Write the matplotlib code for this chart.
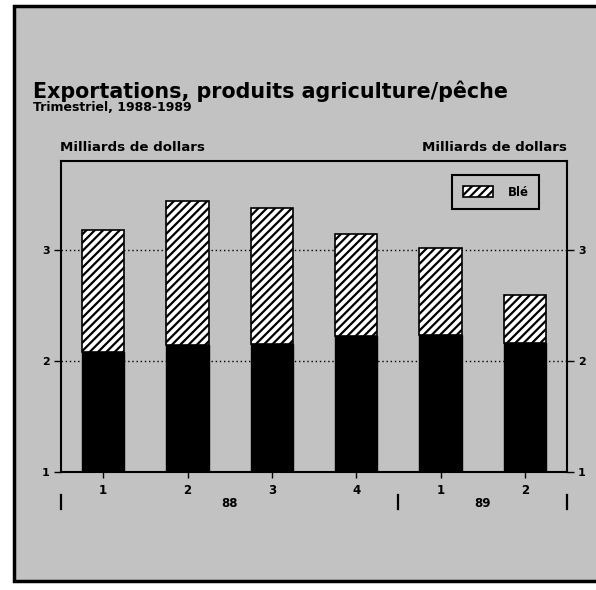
import matplotlib.pyplot as plt
from matplotlib.patches import Rectangle
import numpy as np

# Quarterly exports, billions of dollars
quarters = ['1', '2', '3', '4', '1', '2']
years = ['88', '89']
other_vals = [2.08, 2.14, 2.15, 2.22, 2.23, 2.16]   # solid black part
ble_vals = [1.10, 1.30, 1.23, 0.92, 0.79, 0.43]     # hatched part (Blé)

GRAY = '#c2c2c2'
plt.rcParams['font.family'] = ['DejaVu Sans']
plt.rcParams['hatch.linewidth'] = 1.6


def make_chart():
    fig = plt.figure(figsize=(5.96, 5.90), dpi=100, facecolor='white')

    # gray panel with heavy frame (right edge runs off the page)
    W, H = 596.0, 590.0
    panel = Rectangle((14 / W, (H - 581) / H), 600 / W, 575 / H,
                      transform=fig.transFigure, facecolor=GRAY,
                      edgecolor='black', linewidth=2.5, zorder=-10)
    fig.patches.append(panel)

    ax = fig.add_axes([61 / W, (H - 472) / H, 506 / W, 311 / H])
    ax.set_facecolor(GRAY)
    x = np.arange(len(quarters))

    ax.bar(x, other_vals, width=0.5, color='black', edgecolor='black', zorder=3)
    ax.bar(x, ble_vals, width=0.5, bottom=other_vals, color='white',
           edgecolor='black', hatch='////', linewidth=1.2, zorder=3, label='Blé')

    ax.set_xlim(-0.5, 5.5)
    ax.set_ylim(1, 3.8)
    ax.set_yticks([1, 2, 3])
    ax.set_yticklabels(['1', '2', '3'], fontsize=8, fontweight='bold')
    ax.tick_params(axis='y', direction='out', length=5, width=1,
                   right=True, labelright=True, pad=3)
    ax.set_xticks(x)
    ax.set_xticklabels(quarters, fontsize=8.5, fontweight='bold')
    ax.tick_params(axis='x', direction='out', length=4, width=1, pad=5)

    for yv in [2, 3]:
        ax.axhline(yv, color='black', linestyle=(0, (1, 2)), linewidth=1, zorder=1)

    for s in ax.spines.values():
        s.set_linewidth(1.5)

    # year separators and year labels under the quarters
    tr = ax.get_xaxis_transform()
    for xs in [-0.5, 3.5, 5.5]:
        ax.plot([xs, xs], [-0.075, -0.12], color='black', linewidth=1.6,
                transform=tr, clip_on=False)
    for xs, yr in zip([1.5, 4.5], years):
        ax.text(xs, -0.1, yr, transform=tr, ha='center', va='center',
                fontsize=8.5, fontweight='bold')

    leg = ax.legend(loc='upper right', bbox_to_anchor=(0.945, 0.955),
                    fancybox=False, facecolor=GRAY, edgecolor='black',
                    prop={'weight': 'bold', 'size': 8.5}, handlelength=2.6,
                    handleheight=1.1, borderpad=0.9, borderaxespad=0,
                    handletextpad=1.2)
    leg.get_frame().set_linewidth(1.5)
    leg.get_frame().set_alpha(None)

    # titles
    fig.text(33 / W, (H - 98) / H, 'Exportations, produits agriculture/pêche',
             fontsize=14.9, fontweight='bold', ha='left', va='baseline')
    fig.text(33 / W, (H - 111) / H, 'Trimestriel, 1988-1989',
             fontsize=9, fontweight='bold', ha='left', va='baseline')
    fig.text(60 / W, (H - 151) / H, 'Milliards de dollars',
             fontsize=9.6, fontweight='bold', ha='left', va='baseline')
    fig.text(567 / W, (H - 151) / H, 'Milliards de dollars',
             fontsize=9.6, fontweight='bold', ha='right', va='baseline')

    fig.savefig('out.png', dpi=100, facecolor='white')


if __name__ == '__main__':
    make_chart()
